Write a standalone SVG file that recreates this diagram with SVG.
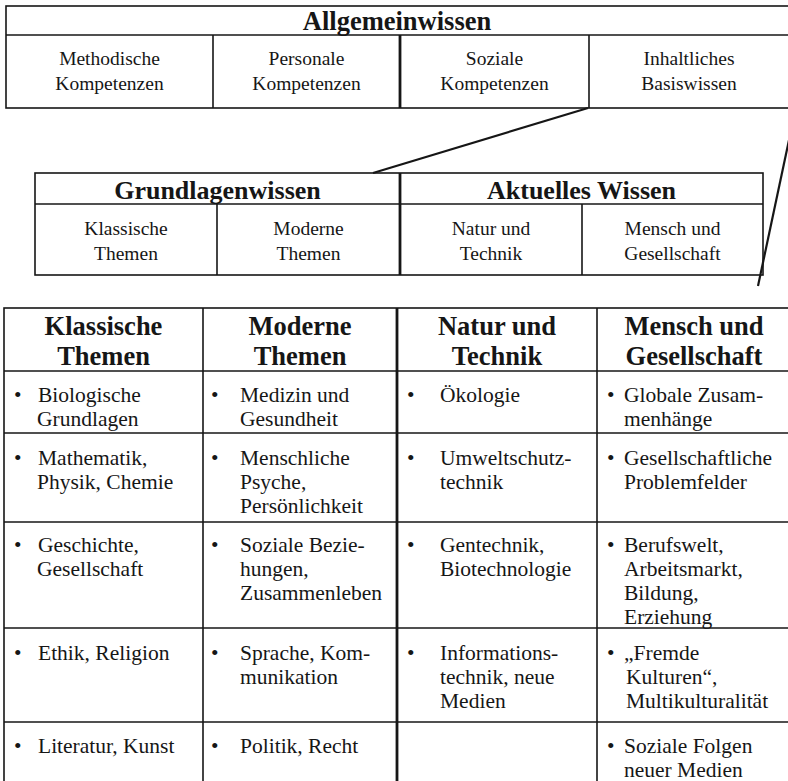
<svg xmlns="http://www.w3.org/2000/svg" width="788" height="781" viewBox="0 0 788 781">
<style>
  text { font-family: "Liberation Serif", "Times New Roman", serif; fill: #161616; }
  .h { font-weight: bold; font-size: 26.5px; text-anchor: middle; }
  .mh { font-weight: bold; font-size: 26px; text-anchor: middle; }
  .bh { font-weight: bold; font-size: 26.5px; text-anchor: middle; }
  .c { font-size: 19.5px; text-anchor: middle; }
  .b { font-size: 21.5px; }
  .ln { stroke: #161616; stroke-width: 1.6; fill: none; }
  .thick { stroke: #161616; stroke-width: 2.8; fill: none; }
  .conn { stroke: #161616; stroke-width: 2.2; fill: none; }
</style>
<rect width="788" height="781" fill="#ffffff"/>

<g id="allgemeinwissen">
  <rect class="ln" x="6" y="6" width="790" height="102"/>
  <line class="ln" x1="6" y1="35" x2="790" y2="35"/>
  <line class="ln" x1="213" y1="35" x2="213" y2="108"/>
  <line class="thick" x1="400" y1="35" x2="400" y2="108"/>
  <line class="ln" x1="589" y1="35" x2="589" y2="108"/>
  <text class="h" x="397" y="30">Allgemeinwissen</text>
  <g id="methodische"><text class="c" x="109.5" y="65">Methodische</text><text class="c" x="109.5" y="90">Kompetenzen</text></g>
  <g id="personale"><text class="c" x="306.5" y="65">Personale</text><text class="c" x="306.5" y="90">Kompetenzen</text></g>
  <g id="soziale"><text class="c" x="494.5" y="65">Soziale</text><text class="c" x="494.5" y="90">Kompetenzen</text></g>
  <g id="inhaltliches"><text class="c" x="689" y="65">Inhaltliches</text><text class="c" x="689" y="90">Basiswissen</text></g>
</g>

<g id="basiswissen">
  <rect class="ln" x="35" y="173" width="728" height="102"/>
  <line class="ln" x1="35" y1="204" x2="763" y2="204"/>
  <line class="thick" x1="400" y1="173" x2="400" y2="275"/>
  <line class="ln" x1="217" y1="204" x2="217" y2="275"/>
  <line class="ln" x1="582" y1="204" x2="582" y2="275"/>
  <g id="grundlagenwissen"><text class="mh" x="217.5" y="199">Grundlagenwissen</text></g>
  <g id="aktuelles"><text class="mh" x="581.5" y="199">Aktuelles Wissen</text></g>
  <g id="m-klassisch"><text class="c" x="126" y="235">Klassische</text><text class="c" x="126" y="260">Themen</text></g>
  <g id="m-modern"><text class="c" x="308.5" y="235">Moderne</text><text class="c" x="308.5" y="260">Themen</text></g>
  <g id="m-natur"><text class="c" x="491" y="235">Natur und</text><text class="c" x="491" y="260">Technik</text></g>
  <g id="m-mensch"><text class="c" x="672.5" y="235">Mensch und</text><text class="c" x="672.5" y="260">Gesellschaft</text></g>
</g>

<g id="connectors">
  <line class="conn" x1="588" y1="108" x2="373" y2="173"/>
  <line class="conn" x1="789" y1="140" x2="758" y2="286"/>
</g>

<g id="themen">
  <rect class="ln" x="4" y="308" width="790" height="490"/>
  <line class="ln" x1="4" y1="371" x2="790" y2="371"/>
  <line class="ln" x1="4" y1="433" x2="790" y2="433"/>
  <line class="ln" x1="4" y1="522" x2="790" y2="522"/>
  <line class="ln" x1="4" y1="628" x2="790" y2="628"/>
  <line class="ln" x1="4" y1="722" x2="790" y2="722"/>
  <line class="ln" x1="203" y1="308" x2="203" y2="781"/>
  <line class="thick" x1="397" y1="308" x2="397" y2="781"/>
  <line class="ln" x1="597" y1="308" x2="597" y2="781"/>

  <g id="col-klassisch">
    <text class="bh" x="103.5" y="335">Klassische</text><text class="bh" x="103.5" y="365">Themen</text>
    <text class="b" x="14" y="402">•</text><text class="b" x="38" y="402">Biologische</text><text class="b" x="37" y="426">Grundlagen</text>
    <text class="b" x="14" y="465">•</text><text class="b" x="38" y="465">Mathematik,</text><text class="b" x="37" y="489">Physik, Chemie</text>
    <text class="b" x="14" y="552">•</text><text class="b" x="38" y="552">Geschichte,</text><text class="b" x="37" y="576">Gesellschaft</text>
    <text class="b" x="14" y="660">•</text><text class="b" x="38" y="660">Ethik, Religion</text>
    <text class="b" x="14" y="753">•</text><text class="b" x="38" y="753">Literatur, Kunst</text>
  </g>
  <g id="col-modern">
    <text class="bh" x="300" y="335">Moderne</text><text class="bh" x="300" y="365">Themen</text>
    <text class="b" x="211" y="402">•</text><text class="b" x="240" y="402">Medizin und</text><text class="b" x="240" y="426">Gesundheit</text>
    <text class="b" x="211" y="465">•</text><text class="b" x="240" y="465">Menschliche</text><text class="b" x="240" y="489">Psyche,</text><text class="b" x="240" y="513">Persönlichkeit</text>
    <text class="b" x="211" y="552">•</text><text class="b" x="240" y="552">Soziale Bezie-</text><text class="b" x="240" y="576">hungen,</text><text class="b" x="240" y="600">Zusammenleben</text>
    <text class="b" x="211" y="660">•</text><text class="b" x="240" y="660">Sprache, Kom-</text><text class="b" x="240" y="684">munikation</text>
    <text class="b" x="211" y="753">•</text><text class="b" x="240" y="753">Politik, Recht</text>
  </g>
  <g id="col-natur">
    <text class="bh" x="497" y="335">Natur und</text><text class="bh" x="497" y="365">Technik</text>
    <text class="b" x="407" y="402">•</text><text class="b" x="440" y="402">Ökologie</text>
    <text class="b" x="407" y="465">•</text><text class="b" x="440" y="465">Umweltschutz-</text><text class="b" x="440" y="489">technik</text>
    <text class="b" x="407" y="552">•</text><text class="b" x="440" y="552">Gentechnik,</text><text class="b" x="440" y="576">Biotechnologie</text>
    <text class="b" x="407" y="660">•</text><text class="b" x="440" y="660">Informations-</text><text class="b" x="440" y="684">technik, neue</text><text class="b" x="440" y="708">Medien</text>
  </g>
  <g id="col-mensch">
    <text class="bh" x="694" y="335">Mensch und</text><text class="bh" x="694" y="365">Gesellschaft</text>
    <text class="b" x="607" y="402">•</text><text class="b" x="624" y="402">Globale Zusam-</text><text class="b" x="624" y="426">menhänge</text>
    <text class="b" x="607" y="465">•</text><text class="b" x="624" y="465">Gesellschaftliche</text><text class="b" x="624" y="489">Problemfelder</text>
    <text class="b" x="607" y="552">•</text><text class="b" x="624" y="552">Berufswelt,</text><text class="b" x="624" y="576">Arbeitsmarkt,</text><text class="b" x="624" y="600">Bildung,</text><text class="b" x="624" y="624">Erziehung</text>
    <text class="b" x="607" y="660">•</text><text class="b" x="624" y="660">„Fremde</text><text class="b" x="626" y="684">Kulturen“,</text><text class="b" x="626" y="708">Multikulturalität</text>
    <text class="b" x="607" y="753">•</text><text class="b" x="624" y="753">Soziale Folgen</text><text class="b" x="624" y="777">neuer Medien</text>
  </g>
</g>
</svg>
